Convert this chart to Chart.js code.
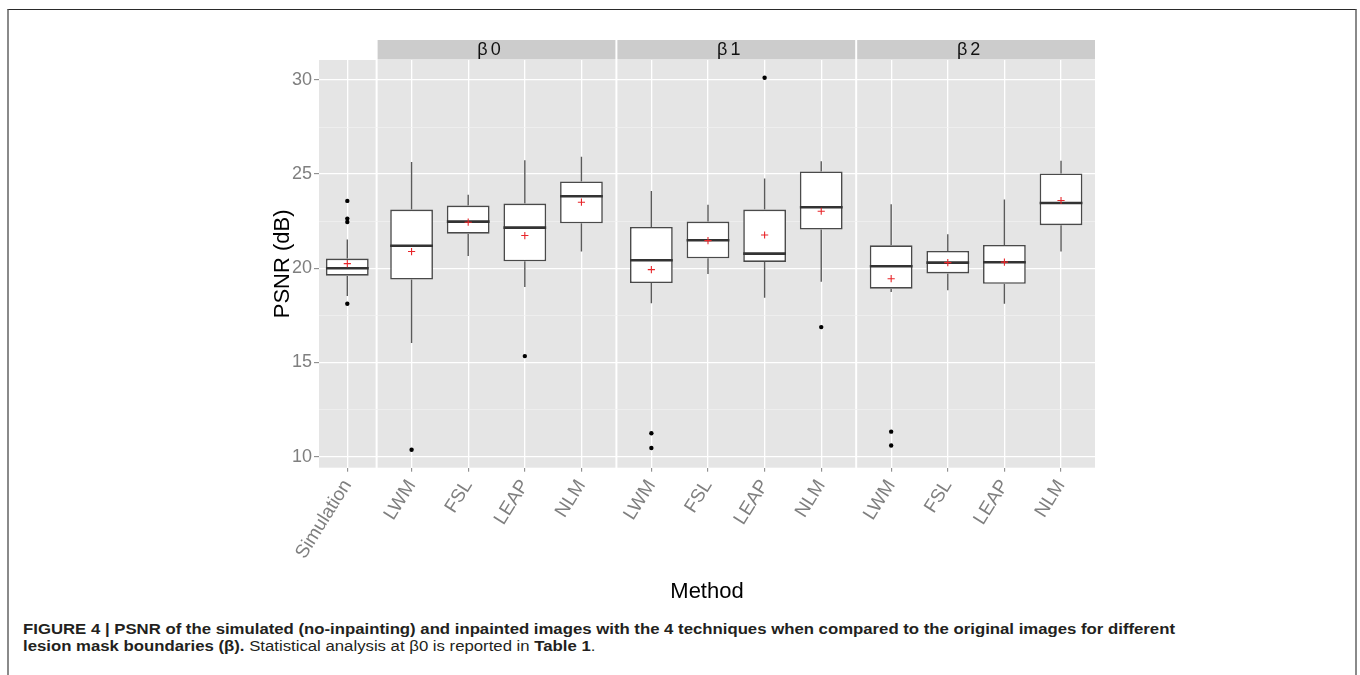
<!DOCTYPE html>
<html>
<head>
<meta charset="utf-8">
<script src="https://cdn.jsdelivr.net/npm/chart.js@4.4.1/dist/chart.umd.min.js"></script>
<style>
  html, body { margin: 0; padding: 0; background: #ffffff; width: 1360px; height: 675px; overflow: hidden; }
  #frame { position: absolute; left: 7px; top: 9px; width: 1350px; height: 720px; box-sizing: border-box;
           border-top: 1px solid #2a2a2a; border-left: 2px solid #8a8a8a; border-right: 2px solid #8a8a8a; }
  #wrap { position: absolute; left: 0; top: 0; width: 1360px; height: 610px; }
  #caption { position: absolute; left: 22.7px; top: 621px; font-family: 'Liberation Sans', Arial, Helvetica, sans-serif;
             font-size: 14px; line-height: 16.7px; color: #231f20; white-space: nowrap; transform-origin: 0 0; }
  #caption b { font-weight: bold; }
</style>
</head>
<body>
<div id="frame"></div>
<div id="wrap"><canvas id="c" width="1360" height="610"></canvas></div>
<div id="caption"><span id="l1"><b>FIGURE 4 | PSNR of the simulated (no-inpainting) and inpainted images with the 4 techniques when compared to the original images for different</b></span><br><b>lesion mask boundaries (β).</b> Statistical analysis at β0 is reported in <b>Table 1</b>.</div>
<script>
// ---------------- data ----------------
const panelLabels = ['', 'β0', 'β1', 'β2'];
const panelSizes  = [1, 4, 4, 4];
const categories  = ['Simulation', 'LWM', 'FSL', 'LEAP', 'NLM', 'LWM', 'FSL', 'LEAP', 'NLM', 'LWM', 'FSL', 'LEAP', 'NLM'];

const whiskerLow  = [18.53, 16.03, 20.66, 19.01, 20.89, 18.15, 19.70, 18.44, 19.29, 18.74, 18.83, 18.12, 20.89];
const q1          = [19.61, 19.40, 21.84, 20.37, 22.39, 19.22, 20.53, 20.34, 22.06, 18.92, 19.73, 19.18, 22.29];
const median      = [20.00, 21.20, 22.48, 22.16, 23.83, 20.43, 21.49, 20.78, 23.24, 20.11, 20.30, 20.32, 23.47];
const q3          = [20.52, 23.12, 23.33, 23.44, 24.61, 22.20, 22.48, 23.12, 25.14, 21.22, 20.92, 21.24, 25.04];
const whiskerHigh = [21.53, 25.65, 23.90, 25.74, 25.92, 24.10, 23.37, 24.77, 25.69, 23.40, 21.81, 23.65, 25.71];
const means       = [20.25, 20.89, 22.45, 21.74, 23.51, 19.93, 21.47, 21.77, 23.03, 19.45, 20.30, 20.33, 23.60];
const outliers    = [[23.58, 22.64, 22.46, 18.12], [10.37], [], [15.34], [], [11.24, 10.46], [], [30.12], [16.88], [11.33, 10.59], [], [], []];

const yTickValues = [10, 12.5, 15, 17.5, 20, 22.5, 25, 27.5, 30];
const yMin = 9.415, yMax = 31.06;

// ---------------- facet layout (in category units) ----------------
const PANEL_GAP = 0.035;
const panelExpand = [0.5, 0.6, 0.6, 0.6];
const BOX_WIDTH = 0.755;

const panels = [];
const xPos = [];
let cursor = 0;
panelSizes.forEach((n, p) => {
  const e = panelExpand[p];
  const start = cursor;
  for (let i = 0; i < n; i++) xPos.push(start + e + i);
  const end = start + 2 * e + (n - 1);
  panels.push({ start, end, label: panelLabels[p] });
  cursor = end + PANEL_GAP;
});
const xMax = cursor - PANEL_GAP;

// ---------------- datasets ----------------
const boxData = xPos.map((x, i) => ({ x, y: [q1[i], q3[i]] }));
const whiskerData = xPos.flatMap((x, i) => [
  { x, y: q3[i] }, { x, y: whiskerHigh[i] }, { x, y: null },
  { x, y: q1[i] }, { x, y: whiskerLow[i] }, { x, y: null }
]);
const medianData = xPos.flatMap((x, i) => [
  { x: x - BOX_WIDTH / 2, y: median[i] }, { x: x + BOX_WIDTH / 2, y: median[i] }, { x, y: null }
]);
const outlierData = xPos.flatMap((x, i) => outliers[i].map(v => ({ x, y: v })));
const meanData = xPos.map((x, i) => ({ x, y: means[i] }));

const facetPlugin = {
  id: 'facets',
  beforeDraw(chart) {
    const { ctx, chartArea: { top, bottom }, scales: { x } } = chart;
    ctx.save();
    panels.forEach(p => {
      const l = x.getPixelForValue(p.start), r = x.getPixelForValue(p.end);
      ctx.fillStyle = '#E5E5E5';
      ctx.fillRect(l, top, r - l, bottom - top);
      if (p.label) {
        ctx.fillStyle = '#CCCCCC';
        ctx.fillRect(l, top - 20, r - l, 19.5);
        ctx.fillStyle = '#111111';
        ctx.font = '18px "Liberation Sans", Arial, sans-serif';
        ctx.textAlign = 'center';
        ctx.textBaseline = 'middle';
        try { ctx.letterSpacing = '3px'; } catch (e) {}
        ctx.fillText(p.label, (l + r) / 2 - 6, top - 9.5);
        try { ctx.letterSpacing = '0px'; } catch (e) {}
      }
    });
    ctx.restore();
  }
};

const GREY_TEXT = '#7F7F7F';

new Chart(document.getElementById('c'), {
  type: 'scatter',
  data: {
    datasets: [
      { type: 'bar', data: boxData, backgroundColor: '#FFFFFF', borderColor: '#4a4a4a', borderWidth: 1.6,
        borderSkipped: false, barPercentage: BOX_WIDTH, categoryPercentage: 1.0, order: 5 },
      { type: 'scatter', data: whiskerData, showLine: true, borderColor: '#5a5a5a', borderWidth: 1.4,
        pointRadius: 0, fill: false, spanGaps: false, order: 4 },
      { type: 'scatter', data: medianData, showLine: true, borderColor: '#333333', borderWidth: 2.6,
        pointRadius: 0, fill: false, spanGaps: false, order: 3 },
      { type: 'scatter', data: outlierData, pointRadius: 2.2, pointStyle: 'circle', backgroundColor: '#000000',
        borderWidth: 0, order: 2 },
      { type: 'scatter', data: meanData, pointRadius: 3.6, pointStyle: 'cross', borderColor: '#E8262A',
        borderWidth: 1.1, order: 1 }
    ]
  },
  options: {
    responsive: false,
    animation: false,
    devicePixelRatio: 1,
    events: [],
    layout: { padding: { left: 268, right: 265, top: 60, bottom: 4.8 } },
    plugins: { legend: { display: false }, tooltip: { enabled: false } },
    scales: {
      x: {
        type: 'linear', min: 0, max: xMax, offset: false,
        afterBuildTicks: s => { s.ticks = xPos.map(v => ({ value: v })); },
        afterFit: s => { s.height = 137.5; },
        grid: { color: '#FFFFFF', lineWidth: 1.3, drawTicks: true, tickLength: 4, tickColor: GREY_TEXT, tickWidth: 1, offset: false },
        border: { display: false },
        ticks: {
          autoSkip: false, minRotation: 58, maxRotation: 58, padding: 4, color: GREY_TEXT,
          font: { family: '"Liberation Sans", Arial, sans-serif', size: 19 },
          callback: (v, i) => categories[i]
        },
        title: { display: true, text: 'Method', color: '#000000', padding: 0,
                 font: { family: '"Liberation Sans", Arial, sans-serif', size: 22 } }
      },
      y: {
        type: 'linear', min: yMin, max: yMax,
        afterBuildTicks: s => { s.ticks = yTickValues.map(v => ({ value: v })); },
        afterFit: s => { s.width = 51; },
        grid: {
          color: c => (c.tick && c.tick.value % 5 === 0) ? '#FFFFFF' : '#F2F2F2',
          lineWidth: c => (c.tick && c.tick.value % 5 === 0) ? 1.3 : 0.7,
          drawTicks: true, tickLength: 5, tickWidth: 1,
          tickColor: c => (c.tick && c.tick.value % 5 === 0) ? GREY_TEXT : 'rgba(0,0,0,0)'
        },
        border: { display: false },
        ticks: {
          padding: 2, color: GREY_TEXT,
          font: { family: '"Liberation Sans", Arial, sans-serif', size: 18 },
          callback: v => (v % 5 === 0 ? String(v) : '')
        },
        title: { display: true, text: 'PSNR (dB)', color: '#000000', padding: { top: 2, bottom: 0 },
                 font: { family: '"Liberation Sans", Arial, sans-serif', size: 22 } }
      }
    }
  },
  plugins: [facetPlugin]
});

// fit caption line width to the original
(function () {
  const cap = document.getElementById('caption');
  const w = document.getElementById('l1').getBoundingClientRect().width;
  if (w > 0) cap.style.transform = 'scaleX(' + (1152 / w) + ')';
})();
</script>
</body>
</html>
